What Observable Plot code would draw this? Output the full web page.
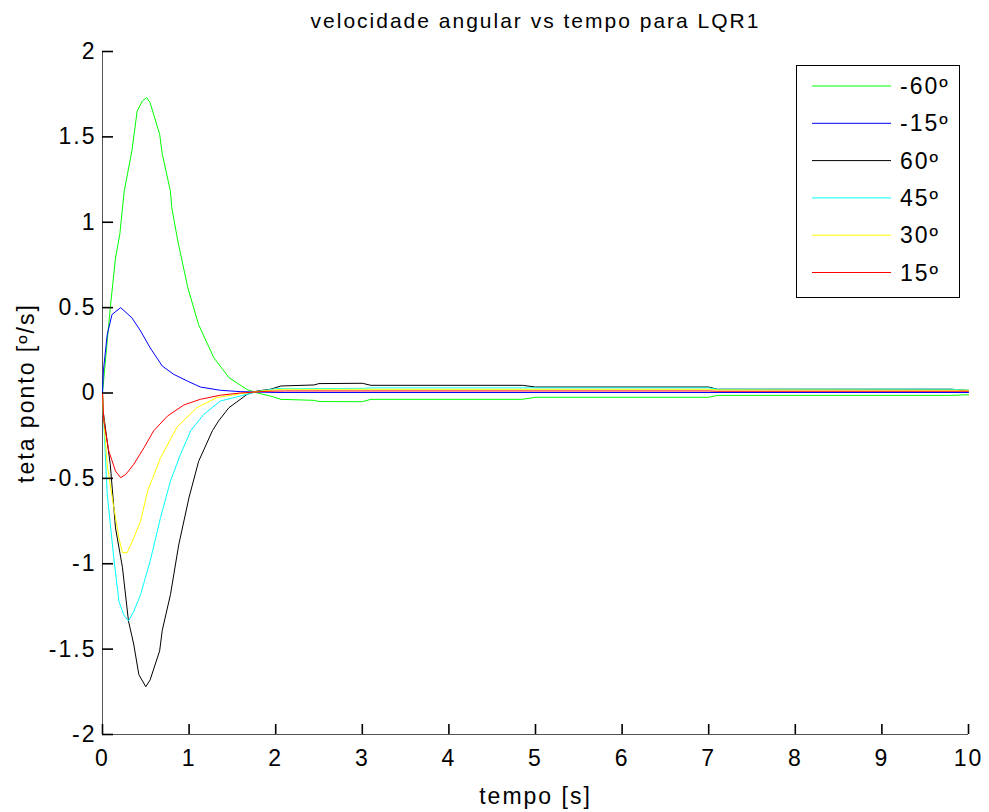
<!DOCTYPE html>
<html>
<head>
<meta charset="utf-8">
<script src="https://cdn.jsdelivr.net/npm/d3@7"></script>
<script src="https://cdn.jsdelivr.net/npm/@observablehq/plot@0.6"></script>
<style>
  html, body { margin: 0; padding: 0; background: #fff; }
  #chart { width: 989px; height: 812px; }
  #chart svg text { letter-spacing: 2px; }
</style>
</head>
<body>
<div id="chart"></div>
<script>
// ---- data ----
const seriesNames  = ["-60º", "-15º", "60º", "45º", "30º", "15º"];
const seriesColors = ["#00ff00", "#0000ff", "#000000", "#00ffff", "#ffff00", "#ff0000"];

const tNeg60 = [0, 0.09, 0.15, 0.2, 0.25, 0.34, 0.40, 0.46, 0.51, 0.55, 0.66, 0.69, 0.785, 0.80, 0.87, 0.985, 1.11, 1.285, 1.46, 1.67, 1.79, 1.94, 2.06, 2.44, 2.5, 3.0, 3.1, 4.85, 5.0, 7.0, 7.1, 9.8, 10];
const vNeg60 = [0, 0.5, 0.79, 0.93, 1.18, 1.42, 1.65, 1.71, 1.73, 1.70, 1.515, 1.40, 1.18, 1.085, 0.89, 0.617, 0.40, 0.207, 0.09, 0.02, 0, -0.018, -0.037, -0.043, -0.05, -0.051, -0.037, -0.037, -0.025, -0.025, -0.014, -0.014, -0.01];

const tNeg15 = [0, 0.01, 0.054, 0.11, 0.21, 0.34, 0.44, 0.55, 0.69, 0.82, 0.98, 1.13, 1.36, 1.59, 2.0, 10];
const vNeg15 = [0, 0.13, 0.34, 0.46, 0.50, 0.44, 0.363, 0.265, 0.158, 0.11, 0.07, 0.035, 0.016, 0.008, 0.003, 0.003];

const tPos60 = [0, 0.01, 0.09, 0.15, 0.23, 0.30, 0.36, 0.42, 0.50, 0.55, 0.66, 0.69, 0.785, 0.88, 1.0, 1.11, 1.27, 1.34, 1.46, 1.67, 1.79, 1.94, 2.06, 2.44, 2.5, 3.0, 3.1, 4.85, 5.0, 7.0, 7.1, 9.8, 10];
const vPos60 = [0, -0.115, -0.42, -0.79, -1.02, -1.335, -1.47, -1.65, -1.72, -1.68, -1.51, -1.39, -1.18, -0.89, -0.61, -0.40, -0.22, -0.164, -0.086, -0.008, 0.012, 0.022, 0.041, 0.047, 0.055, 0.057, 0.045, 0.045, 0.035, 0.035, 0.022, 0.022, 0.015];

const tPos45 = [0, 0.01, 0.054, 0.13, 0.19, 0.246, 0.30, 0.36, 0.44, 0.55, 0.67, 0.785, 0.90, 1.02, 1.17, 1.36, 1.59, 1.8, 2.0, 3.0, 3.1, 7.0, 7.1, 9.8, 10];
const vPos45 = [0, -0.125, -0.59, -0.965, -1.22, -1.30, -1.335, -1.28, -1.18, -0.985, -0.73, -0.515, -0.36, -0.22, -0.125, -0.047, -0.018, 0.01, 0.025, 0.027, 0.03, 0.03, 0.022, 0.022, 0.016];

const tPos30 = [0, 0.01, 0.054, 0.13, 0.19, 0.23, 0.285, 0.36, 0.44, 0.52, 0.67, 0.86, 1.09, 1.32, 1.59, 1.9, 2.1, 7.0, 7.1, 10];
const vPos30 = [0, -0.125, -0.42, -0.67, -0.85, -0.935, -0.935, -0.85, -0.75, -0.575, -0.38, -0.20, -0.086, -0.027, -0.004, 0.015, 0.022, 0.022, 0.018, 0.016];

const tPos15 = [0, 0.015, 0.073, 0.15, 0.21, 0.27, 0.36, 0.48, 0.59, 0.75, 0.94, 1.13, 1.36, 1.59, 1.9, 2.1, 7.0, 7.1, 10];
const vPos15 = [0, -0.164, -0.34, -0.457, -0.496, -0.476, -0.418, -0.32, -0.222, -0.135, -0.07, -0.037, -0.013, 0, 0.01, 0.012, 0.012, 0.01, 0.01];

const xTicks = [0, 1, 2, 3, 4, 5, 6, 7, 8, 9, 10];
const yTicks = [-2, -1.5, -1, -0.5, 0, 0.5, 1, 1.5, 2];
const xDomain = [0, 10];
const yDomain = [-2, 2];

const titleText = "velocidade angular vs tempo para LQR1";
const xLabel = "tempo [s]";
const yLabel = "teta ponto [º/s]";

// ---- build table ----
const times  = [tNeg60, tNeg15, tPos60, tPos45, tPos30, tPos15];
const values = [vNeg60, vNeg15, vPos60, vPos45, vPos30, vPos15];
const rows = [];
seriesNames.forEach((name, i) => {
  times[i].forEach((t, j) => rows.push({series: name, t, v: values[i][j]}));
});

const FONT = "'Liberation Sans', Arial, Helvetica, sans-serif";
const fmt = d => String(d);
const axisColor = "#555";

const W = 989, H = 812, ML = 102, MR = 21, MT = 51, MB = 78;
const frameW = W - ML - MR, frameH = H - MT - MB;
const xTickLen = 10 * (yDomain[1] - yDomain[0]) / frameH;
const yTickLen = 11 * (xDomain[1] - xDomain[0]) / frameW;

const lineMarks = seriesNames.map((name, i) =>
  Plot.line(rows.filter(r => r.series === name), {x: "t", y: "v", stroke: seriesColors[i], strokeWidth: 1})
);

const chart = Plot.plot({
  width: W,
  height: H,
  marginLeft: ML,
  marginRight: MR,
  marginTop: MT,
  marginBottom: MB,
  style: {fontFamily: FONT, background: "#fff", color: "#000"},
  x: {domain: xDomain},
  y: {domain: yDomain},
  marks: [
    Plot.axisX({ticks: xTicks, tickSize: 0, tickPadding: 15, tickFormat: fmt, fontSize: 23, label: null, fill: "#000"}),
    Plot.axisY({ticks: yTicks, tickSize: 0, tickPadding: 6, tickFormat: fmt, fontSize: 23, label: null, fill: "#000"}),
    Plot.ruleX([xDomain[0]], {stroke: axisColor, strokeWidth: 1}),
    Plot.ruleY([yDomain[0]], {stroke: axisColor, strokeWidth: 1}),
    ...lineMarks,
    // inward tick marks (MATLAB style)
    Plot.ruleX(xTicks, {x: d => d, y1: yDomain[0], y2: yDomain[0] + xTickLen, stroke: "#000", strokeWidth: 1.6}),
    Plot.ruleY(yTicks, {y: d => d, x1: xDomain[0], x2: xDomain[0] + yTickLen, stroke: "#000", strokeWidth: 1.6}),
    Plot.text([titleText], {frameAnchor: "top", dy: -38, fontSize: 21, fill: "#000"}),
    Plot.text([xLabel], {frameAnchor: "bottom", dy: 69, fontSize: 23, fill: "#000"}),
    Plot.text([yLabel], {frameAnchor: "left", textAnchor: "middle", dx: -76, rotate: -90, fontSize: 23, fill: "#000"})
  ]
});

// ---- legend inside the plot area ----
const svg = d3.select(chart);
const lg = svg.append("g").attr("font-family", FONT).attr("text-anchor", "start");
const lx = 796, ly = 65, lw = 163, lh = 232;
lg.append("rect").attr("x", lx + 0.5).attr("y", ly + 0.5).attr("width", lw).attr("height", lh)
  .attr("fill", "#fff").attr("stroke", "#000").attr("stroke-width", 1);
seriesNames.forEach((name, i) => {
  const yy = 86 + i * 37.3;
  lg.append("line").attr("x1", 812).attr("x2", 891).attr("y1", yy).attr("y2", yy)
    .attr("stroke", seriesColors[i]).attr("stroke-width", 1);
  lg.append("text").attr("x", 900).attr("y", yy).attr("dy", "0.35em")
    .attr("font-size", 23).attr("fill", "#000").attr("text-anchor", "start").text(name);
});

document.getElementById("chart").appendChild(chart);
</script>
</body>
</html>
